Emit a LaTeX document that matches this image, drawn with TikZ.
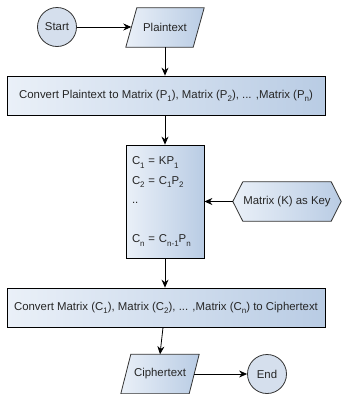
\documentclass[tikz,border=0pt]{standalone}
\usepackage{fontspec}
\setmainfont{Liberation Sans}
\usetikzlibrary{arrows.meta,backgrounds}
\definecolor{boxL}{HTML}{EAF0F8}
\definecolor{boxR}{HTML}{B9CCE4}
\definecolor{circ}{HTML}{D5DFED}
\definecolor{txt}{HTML}{262626}
\definecolor{edge}{HTML}{333333}
\newcommand\lowsub[1]{\raisebox{-3.2pt}{\fontsize{8}{8}\selectfont #1}}
\begin{document}
\begin{tikzpicture}[x=1pt,y=-1pt,
  every node/.style={font=\fontsize{11.4}{13}\selectfont, text=txt},
  proc/.style={draw=black, line width=0.8pt, left color=boxL, right color=boxR, inner sep=0pt},
  term/.style={circle, draw=edge, line width=0.8pt, fill=circ, minimum size=39pt, inner sep=0pt},
  shapebox/.style={inner sep=0pt, minimum height=39pt},
  outline/.style={draw=edge, line width=0.8pt, left color=boxL, right color=boxR},
  conn/.style={draw=black, line width=0.8pt, -{Stealth[length=8pt,width=7pt]}}]
\useasboundingbox (0,0) rectangle (344,394);

\node[term] (start) at (57,27) {Start};
\node[shapebox, minimum width=67pt] (plain) at (165,27.5) {Plaintext};
\node[proc, minimum width=318pt, minimum height=39pt] (conv1) at (166,95.5)
  {Convert Plaintext to Matrix (P\lowsub{1}), Matrix (P\lowsub{2}), ... ,Matrix (P\lowsub{n})};
\node[proc, minimum height=113pt, text width=66pt, align=left, inner xsep=6pt,
  font=\fontsize{11.4}{19.5}\selectfont] (calc) at (165,201.5)
  {C\lowsub{1} = KP\lowsub{1}\\
   C\lowsub{2} = C\lowsub{1}P\lowsub{2}\\
   ..\\
   ~\\
   C\lowsub{n} = C\lowsub{n-1}P\lowsub{n}};
\node[shapebox, minimum width=88pt] (key) at (287,201.5) {Matrix (K) as Key};
\coordinate (keytip) at ([xshift=-10pt]key.west);
\node[proc, minimum width=318pt, minimum height=39pt] (conv2) at (166,307.5)
  {Convert Matrix (C\lowsub{1}), Matrix (C\lowsub{2}), ... ,Matrix (C\lowsub{n}) to Ciphertext};
\node[shapebox, minimum width=68pt] (ciph) at (160,374) {Ciphertext};
\node[term] (fin) at (267,374) {End};

\begin{scope}[on background layer]
\path[outline] ([xshift=-5.5pt]plain.south west) -- ([xshift=5.5pt]plain.north west)
  -- ([xshift=5.5pt]plain.north east) -- ([xshift=-5.5pt]plain.south east) -- cycle;
\path[outline] (keytip) -- (key.north west) -- (key.north east) -- ([xshift=10pt]key.east)
  -- (key.south east) -- (key.south west) -- cycle;
\path[outline] ([xshift=-5pt]ciph.south west) -- ([xshift=5pt]ciph.north west)
  -- ([xshift=5pt]ciph.north east) -- ([xshift=-5pt]ciph.south east) -- cycle;
\end{scope}

\draw[conn] (start.east) -- (start.east -| plain.west);
\draw[conn] (plain.south) -- (plain.south |- conv1.north);
\draw[conn] (calc.north |- conv1.south) -- (calc.north);
\draw[conn] (keytip) -- (calc.east);
\draw[conn] (calc.south) -- (calc.south |- conv2.north);
\draw[conn] ([xshift=3pt]ciph.north |- conv2.south) -- (ciph.north);
\draw[conn] (ciph.east) -- (fin.west);
\end{tikzpicture}
\end{document}
